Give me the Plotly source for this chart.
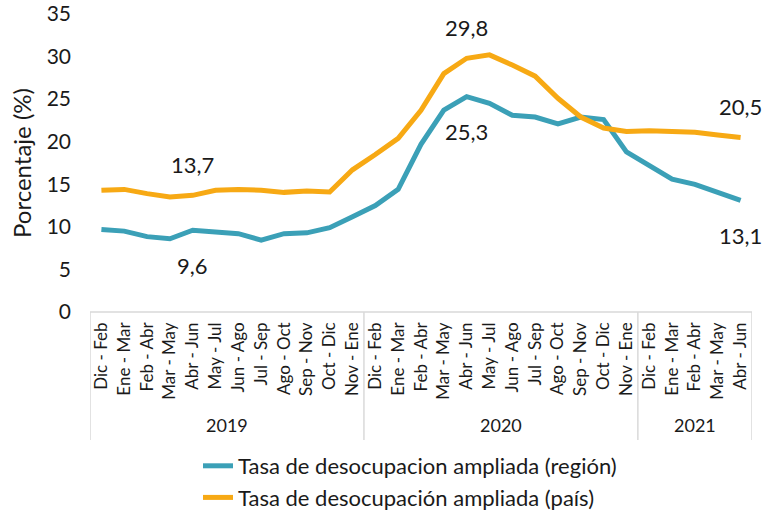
import plotly.graph_objects as go

months = ["Dic - Feb", "Ene - Mar", "Feb - Abr", "Mar - May", "Abr - Jun", "May - Jul",
          "Jun - Ago", "Jul - Sep", "Ago - Oct", "Sep - Nov", "Oct - Dic", "Nov - Ene",
          "Dic - Feb", "Ene - Mar", "Feb - Abr", "Mar - May", "Abr - Jun", "May - Jul",
          "Jun - Ago", "Jul - Sep", "Ago - Oct", "Sep - Nov", "Oct - Dic", "Nov - Ene",
          "Dic - Feb", "Ene - Mar", "Feb - Abr", "Mar - May", "Abr - Jun"]
years = ["2019", "2020", "2021"]
year_counts = [12, 12, 5]

region = [9.7, 9.5, 8.85, 8.6, 9.6, 9.4, 9.2, 8.45, 9.2, 9.3, 9.9, 11.2,
          12.5, 14.4, 19.7, 23.7, 25.3, 24.5, 23.1, 22.9, 22.1, 22.9, 22.6, 18.8,
          17.2, 15.6, 15.0, 14.05, 13.1]
pais = [14.3, 14.4, 13.9, 13.5, 13.7, 14.3, 14.4, 14.3, 14.05, 14.2, 14.1, 16.7,
        18.5, 20.4, 23.7, 28.0, 29.8, 30.2, 29.0, 27.7, 25.1, 22.9, 21.6, 21.2,
        21.3, 21.2, 21.1, 20.8, 20.5]

series_names = ["Tasa de desocupacion ampliada (región)", "Tasa de desocupación ampliada (país)"]
colors = ["#3BA0B7", "#F7A914"]

# labelled points: (series index, point index, position)
labels = [(1, 4, "above"), (0, 4, "below"), (1, 16, "above"), (0, 16, "below"),
          (1, 28, "above"), (0, 28, "below")]

FONT = "Lato, Carlito, Calibri, sans-serif"
TXT = "#1a1a1a"
GRID = "#d9d9d9"

x = list(range(len(months)))
fig = go.Figure()
for name, vals, col in zip(series_names, [region, pais], colors):
    fig.add_trace(go.Scatter(x=x, y=vals, mode="lines", name=name,
                             line=dict(color=col, width=5), hoverinfo="y"))

data = [region, pais]
for s, i, pos in labels:
    v = data[s][i]
    fig.add_annotation(x=i, y=v, xref="x", yref="y", text=f"{v:.1f}".replace(".", ","),
                       showarrow=False, yshift=31 if pos == "above" else -35,
                       font=dict(size=22, color=TXT, family=FONT))

# year grouping boxes
plot_h = 298.0
box_bottom = -128 / plot_h
bounds = [-0.5]
for c in year_counts:
    bounds.append(bounds[-1] + c)
fig.add_shape(type="line", xref="x", yref="paper", x0=bounds[0], x1=bounds[-1], y0=0, y1=0,
              line=dict(color=GRID, width=1.5))
for b in bounds:
    fig.add_shape(type="line", xref="x", yref="paper", x0=b, x1=b, y0=0, y1=box_bottom,
                  line=dict(color=GRID, width=1.5))
for k, yr in enumerate(years):
    fig.add_annotation(x=(bounds[k] + bounds[k + 1]) / 2, y=0, xref="x", yref="paper",
                       yshift=-113, text=yr, showarrow=False, yanchor="middle",
                       font=dict(size=18, color=TXT, family=FONT))

fig.update_layout(
    width=774, height=510,
    margin=dict(l=90, r=22, t=14, b=198, autoexpand=False),
    paper_bgcolor="white", plot_bgcolor="white",
    font=dict(family=FONT, color=TXT),
    showlegend=True,
    legend=dict(orientation="v", x=(198 - 90) / 662, xanchor="left",
                y=-(445 - 312) / plot_h, yanchor="top",
                font=dict(size=22, color=TXT, family=FONT),
                bgcolor="rgba(0,0,0,0)", itemwidth=30),
    xaxis=dict(range=[-0.5, len(months) - 0.5], tickmode="array", tickvals=x, ticktext=months,
               tickangle=-90, tickfont=dict(size=17, color=TXT, family=FONT),
               showgrid=False, zeroline=False, showline=False, ticks="", ticklabelstandoff=6,
               automargin=False),
    yaxis=dict(range=[0, 35], tickmode="array", tickvals=[0, 5, 10, 15, 20, 25, 30, 35],
               tickfont=dict(size=21, color=TXT, family=FONT), showgrid=False, zeroline=False,
               showline=False, ticks="", ticklabelstandoff=18, automargin=False,
               title=dict(text="Porcentaje (%)", font=dict(size=24, color=TXT, family=FONT),
                          standoff=8)),
)

fig.write_html("out.html", config={"displayModeBar": False},
               post_script="document.body.style.margin='0';document.body.style.overflow='hidden';")
